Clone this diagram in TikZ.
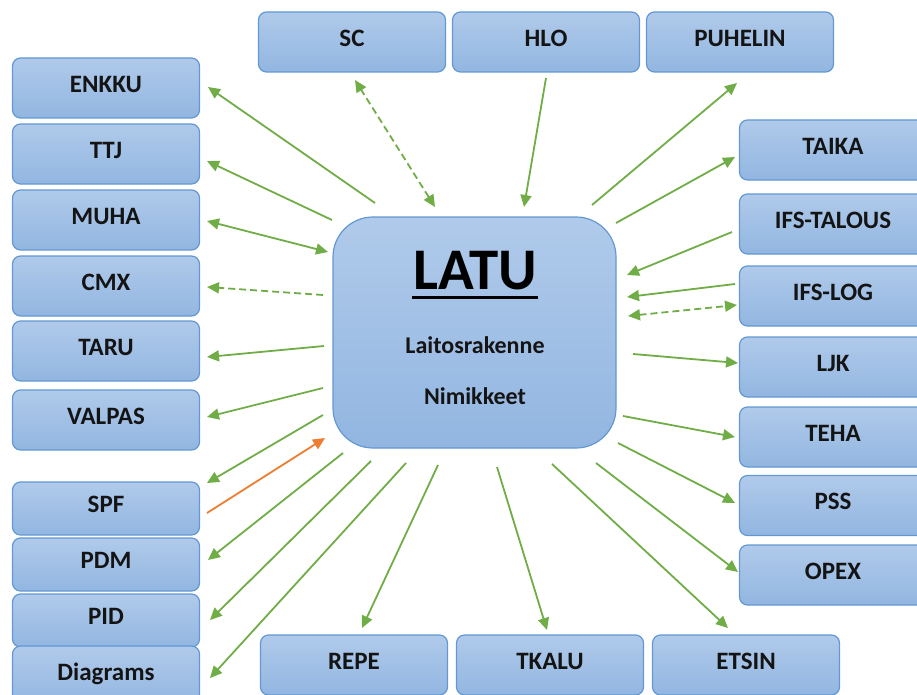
\documentclass[tikz,border=0pt]{standalone}
\usepackage{fontspec}
\setmainfont{Carlito}
\usetikzlibrary{arrows.meta}
\definecolor{boxtop}{RGB}{176,202,234}
\definecolor{boxbot}{RGB}{146,182,225}
\definecolor{boxline}{RGB}{99,152,210}
\definecolor{grn}{RGB}{112,173,71}
\definecolor{orng}{RGB}{237,125,49}
\definecolor{txt}{RGB}{20,20,20}
\tikzset{
  sysbox/.style={draw=boxline, line width=1.2pt, rounded corners=8pt, top color=boxtop, bottom color=boxbot,
    minimum width=187pt, minimum height=60pt, inner sep=0pt, text depth=8pt,
    font=\fontsize{25}{27}\selectfont\bfseries, text=txt},
  link/.style={draw=grn, line width=1.8pt, -{Triangle[length=12pt,width=11pt]}},
  bilink/.style={draw=grn, line width=1.8pt, {Triangle[length=12pt,width=11pt]}-{Triangle[length=12pt,width=11pt]}},
  dlink/.style={dash pattern=on 7pt off 4pt},
}
\begin{document}
\begin{tikzpicture}[x=1pt,y=-1pt]
\useasboundingbox (0,0) rectangle (917,695);
\clip (0,0) rectangle (917,695);
% left column
\node[sysbox] (enkku) at (106,88) {ENKKU};
\node[sysbox] (ttj) at (106,154) {TTJ};
\node[sysbox] (muha) at (106,220) {MUHA};
\node[sysbox] (cmx) at (106,286) {CMX};
\node[sysbox] (taru) at (106,351) {TARU};
\node[sysbox] (valpas) at (106,420) {VALPAS};
\node[sysbox, minimum height=53pt] (spf) at (106,508.5) {SPF};
\node[sysbox, minimum height=53pt] (pdm) at (106,564.5) {PDM};
\node[sysbox, minimum height=53pt] (pid) at (106,620.5) {PID};
\node[sysbox, minimum height=60pt] (diag) at (106,676) {Diagrams};
% top row
\node[sysbox] (sc) at (352,42) {SC};
\node[sysbox] (hlo) at (546,42) {HLO};
\node[sysbox] (puhelin) at (740,42) {PUHELIN};
% right column
\node[sysbox] (taika) at (833,150) {TAIKA};
\node[sysbox] (ifstalous) at (833,224) {IFS-TALOUS};
\node[sysbox] (ifslog) at (833,296) {IFS-LOG};
\node[sysbox] (ljk) at (833,367) {LJK};
\node[sysbox] (teha) at (833,437) {TEHA};
\node[sysbox] (pss) at (833,505.5) {PSS};
\node[sysbox] (opex) at (833,575) {OPEX};
% bottom row
\node[sysbox] (repe) at (354,665) {REPE};
\node[sysbox] (tkalu) at (550,665) {TKALU};
\node[sysbox] (etsin) at (746,665) {ETSIN};
% centre
\node[draw=boxline, line width=1.2pt, rounded corners=40pt, top color=boxtop, bottom color=boxbot,
  minimum width=283pt, minimum height=231pt, inner sep=0pt] (latu) at (474.5,332.5) {};
\node[font=\fontsize{59}{61}\selectfont\bfseries, text=black, anchor=base] (latut) at (475,289) {LATU};
\draw[line width=3pt] (412,297) -- (538,297);
\node[font=\fontsize{24}{26}\selectfont\bfseries, text=txt, anchor=base] (lr) at (475,353) {Laitosrakenne};
\node[font=\fontsize{24}{26}\selectfont\bfseries, text=txt, anchor=base] (nim) at (475,404) {Nimikkeet};
% endpoints
\coordinate (a1) at (375,203); \coordinate (b1) at (208,87);
\coordinate (a2) at (332,220); \coordinate (b2) at (207,161);
\coordinate (a3) at (328,252); \coordinate (b3) at (207,221);
\coordinate (a4) at (323,295); \coordinate (b4) at (207,287);
\coordinate (a5) at (324,346); \coordinate (b5) at (207,357);
\coordinate (a6) at (323,388); \coordinate (b6) at (207,417);
\coordinate (a7) at (323,415); \coordinate (b7) at (207,483);
\coordinate (a8) at (207,513); \coordinate (b8) at (325,438);
\coordinate (a9) at (343,453); \coordinate (b9) at (208,560);
\coordinate (a10) at (371,461); \coordinate (b10) at (210,620);
\coordinate (a11) at (406,463); \coordinate (b11) at (210,678);
\coordinate (a12) at (438,465); \coordinate (b12) at (362,628);
\coordinate (a13) at (497,467); \coordinate (b13) at (547,630);
\coordinate (a14) at (552,464); \coordinate (b14) at (728,628);
\coordinate (a15) at (596,463); \coordinate (b15) at (738,572);
\coordinate (a16) at (618,443); \coordinate (b16) at (735,503);
\coordinate (a17) at (623,416); \coordinate (b17) at (735,437);
\coordinate (a18) at (633,354); \coordinate (b18) at (738,363);
\coordinate (a19) at (628,316); \coordinate (b19) at (737,305);
\coordinate (a20) at (735,284); \coordinate (b20) at (627,297);
\coordinate (a21) at (732,232); \coordinate (b21) at (627,275);
\coordinate (a22) at (616,223); \coordinate (b22) at (735,157);
\coordinate (a23) at (592,205); \coordinate (b23) at (737,83);
\coordinate (a24) at (546,78); \coordinate (b24) at (524,207);
\coordinate (a25) at (435,207); \coordinate (b25) at (355,80);
% connectors
\draw[link] (a1) -- (b1);
\draw[link] (a2) -- (b2);
\draw[bilink] (a3) -- (b3);
\draw[link,dlink] (a4) -- (b4);
\draw[link] (a5) -- (b5);
\draw[link] (a6) -- (b6);
\draw[link] (a7) -- (b7);
\draw[link,draw=orng,-{Triangle[length=12pt,width=11pt]}, fill=orng] (a8) -- (b8);
\draw[link] (a9) -- (b9);
\draw[link] (a10) -- (b10);
\draw[link] (a11) -- (b11);
\draw[link] (a12) -- (b12);
\draw[link] (a13) -- (b13);
\draw[link] (a14) -- (b14);
\draw[link] (a15) -- (b15);
\draw[link] (a16) -- (b16);
\draw[link] (a17) -- (b17);
\draw[link] (a18) -- (b18);
\draw[bilink,dlink] (a19) -- (b19);
\draw[link] (a20) -- (b20);
\draw[link] (a21) -- (b21);
\draw[link] (a22) -- (b22);
\draw[link] (a23) -- (b23);
\draw[link] (a24) -- (b24);
\draw[bilink,dlink] (a25) -- (b25);
\end{tikzpicture}
\end{document}
